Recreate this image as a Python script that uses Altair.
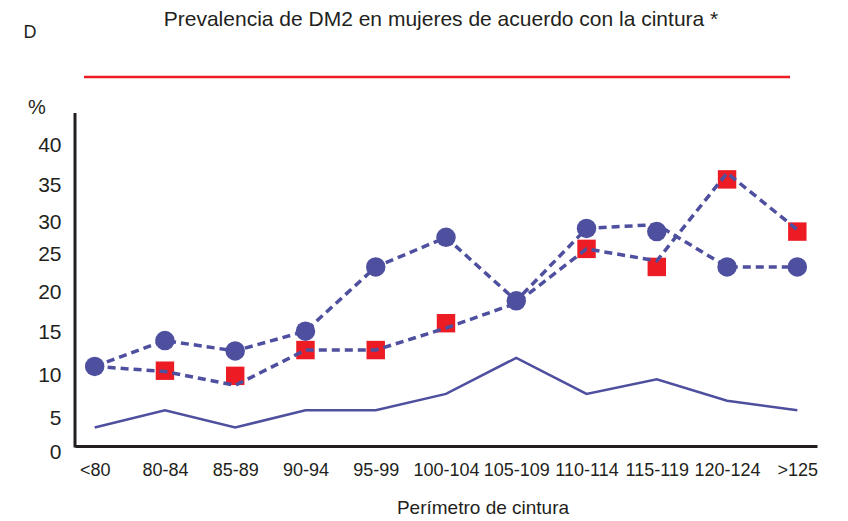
import altair as alt
import pandas as pd

# ---- data ----
categories = ["<80", "80-84", "85-89", "90-94", "95-99", "100-104",
              "105-109", "110-114", "115-119", "120-124", ">125"]
circle_values = [11.0, 14.0, 12.8, 15.1, 23.3, 27.6, 18.9, 29.0, 28.5, 23.3, 23.3]
circle_line_values = [11.0, 14.0, 12.8, 15.1, 23.3, 27.6, 18.9, 29.0, 29.6, 23.3, 23.3]
square_values = [None, 10.5, 9.9, 12.9, 12.9, 16.1, None, 25.8, 23.3, 35.7, 28.5]
square_line_values = [11.0, 10.4, 8.8, 12.9, 12.9, 15.5, 18.6, 25.8, 24.1, 36.5, 28.8]
solid_values = [3.6, 5.9, 3.6, 5.9, 5.9, 7.8, 12.0, 7.8, 9.5, 7.0, 5.9]
y_ticks = [0, 5, 10, 15, 20, 25, 30, 35, 40]

# ---- layout / style ----
y_tick_pixels = [339, 305, 262, 219, 179, 141, 109, 72, 32]  # uneven label spacing of the original
BLUE = "#4e4f9f"
RED = "#ed1c24"
INK = "#231f20"
FONT = "Liberation Sans"
W, H = 742, 333


def frame(vals):
    return pd.DataFrame({"cat": categories, "v": vals})


x_enc = alt.X(
    "cat:N", sort=categories,
    scale=alt.Scale(type="point", padding=0.28),
    axis=alt.Axis(title=None, ticks=False, tickSize=0, domain=True, domainColor=INK,
                  domainWidth=3, labelFont=FONT, labelFontSize=18, labelColor=INK,
                  labelPadding=15, labelAngle=0, grid=False),
)
y_enc = alt.Y(
    "v:Q",
    scale=alt.Scale(domain=y_ticks, range=y_tick_pixels, nice=False, zero=False),
    axis=alt.Axis(title=None, values=y_ticks, domain=False, ticks=False, tickSize=0,
                  grid=False, labelFont=FONT, labelFontSize=21, labelColor=INK,
                  labelPadding=14),
)

squares = alt.Chart(frame(square_values)).mark_square(
    size=340, color=RED, opacity=1, filled=True
).encode(x=x_enc, y=y_enc)

square_line = alt.Chart(frame(square_line_values)).mark_line(
    color=BLUE, strokeWidth=3.5, strokeDash=[8, 5]
).encode(x=x_enc, y=y_enc)

circle_line = alt.Chart(frame(circle_line_values)).mark_line(
    color=BLUE, strokeWidth=3.5, strokeDash=[8, 5]
).encode(x=x_enc, y=y_enc)

solid_line = alt.Chart(frame(solid_values)).mark_line(
    color=BLUE, strokeWidth=2.5
).encode(x=x_enc, y=y_enc)

circles = alt.Chart(frame(circle_values)).mark_circle(
    size=380, color=BLUE, opacity=1
).encode(x=x_enc, y=y_enc)

one = alt.Data(values=[{}])

y_axis_line = alt.Chart(one).mark_rule(color=INK, strokeWidth=3).encode(
    x=alt.value(0), y=alt.value(0), y2=alt.value(H + 1.5)
)
red_rule = alt.Chart(one).mark_rule(color=RED, strokeWidth=2.5).encode(
    x=alt.value(9), x2=alt.value(715), y=alt.value(-36)
)
title = alt.Chart(one).mark_text(
    text="Prevalencia de DM2 en mujeres de acuerdo con la cintura *",
    font=FONT, fontSize=21, color=INK, align="center", baseline="middle"
).encode(x=alt.value(366), y=alt.value(-93))
panel_letter = alt.Chart(one).mark_text(
    text="D", font=FONT, fontSize=18, color=INK, align="center", baseline="middle"
).encode(x=alt.value(-45), y=alt.value(-80))
percent = alt.Chart(one).mark_text(
    text="%", font=FONT, fontSize=20, color=INK, align="center", baseline="middle"
).encode(x=alt.value(-38), y=alt.value(-5))
x_title = alt.Chart(one).mark_text(
    text="Perímetro de cintura", font=FONT, fontSize=19, color=INK,
    align="center", baseline="middle"
).encode(x=alt.value(408), y=alt.value(395))

chart = alt.layer(
    solid_line, squares, square_line, circle_line, circles,
    y_axis_line, red_rule, title, panel_letter, percent, x_title
).properties(
    width=W, height=H,
    autosize=alt.AutoSizeParams(type="none"),
    padding={"left": 67, "top": 105, "right": 20, "bottom": 72},
    background="white",
).configure_view(stroke=None)

chart.save("out.html", embed_options={"renderer": "svg", "actions": False})
